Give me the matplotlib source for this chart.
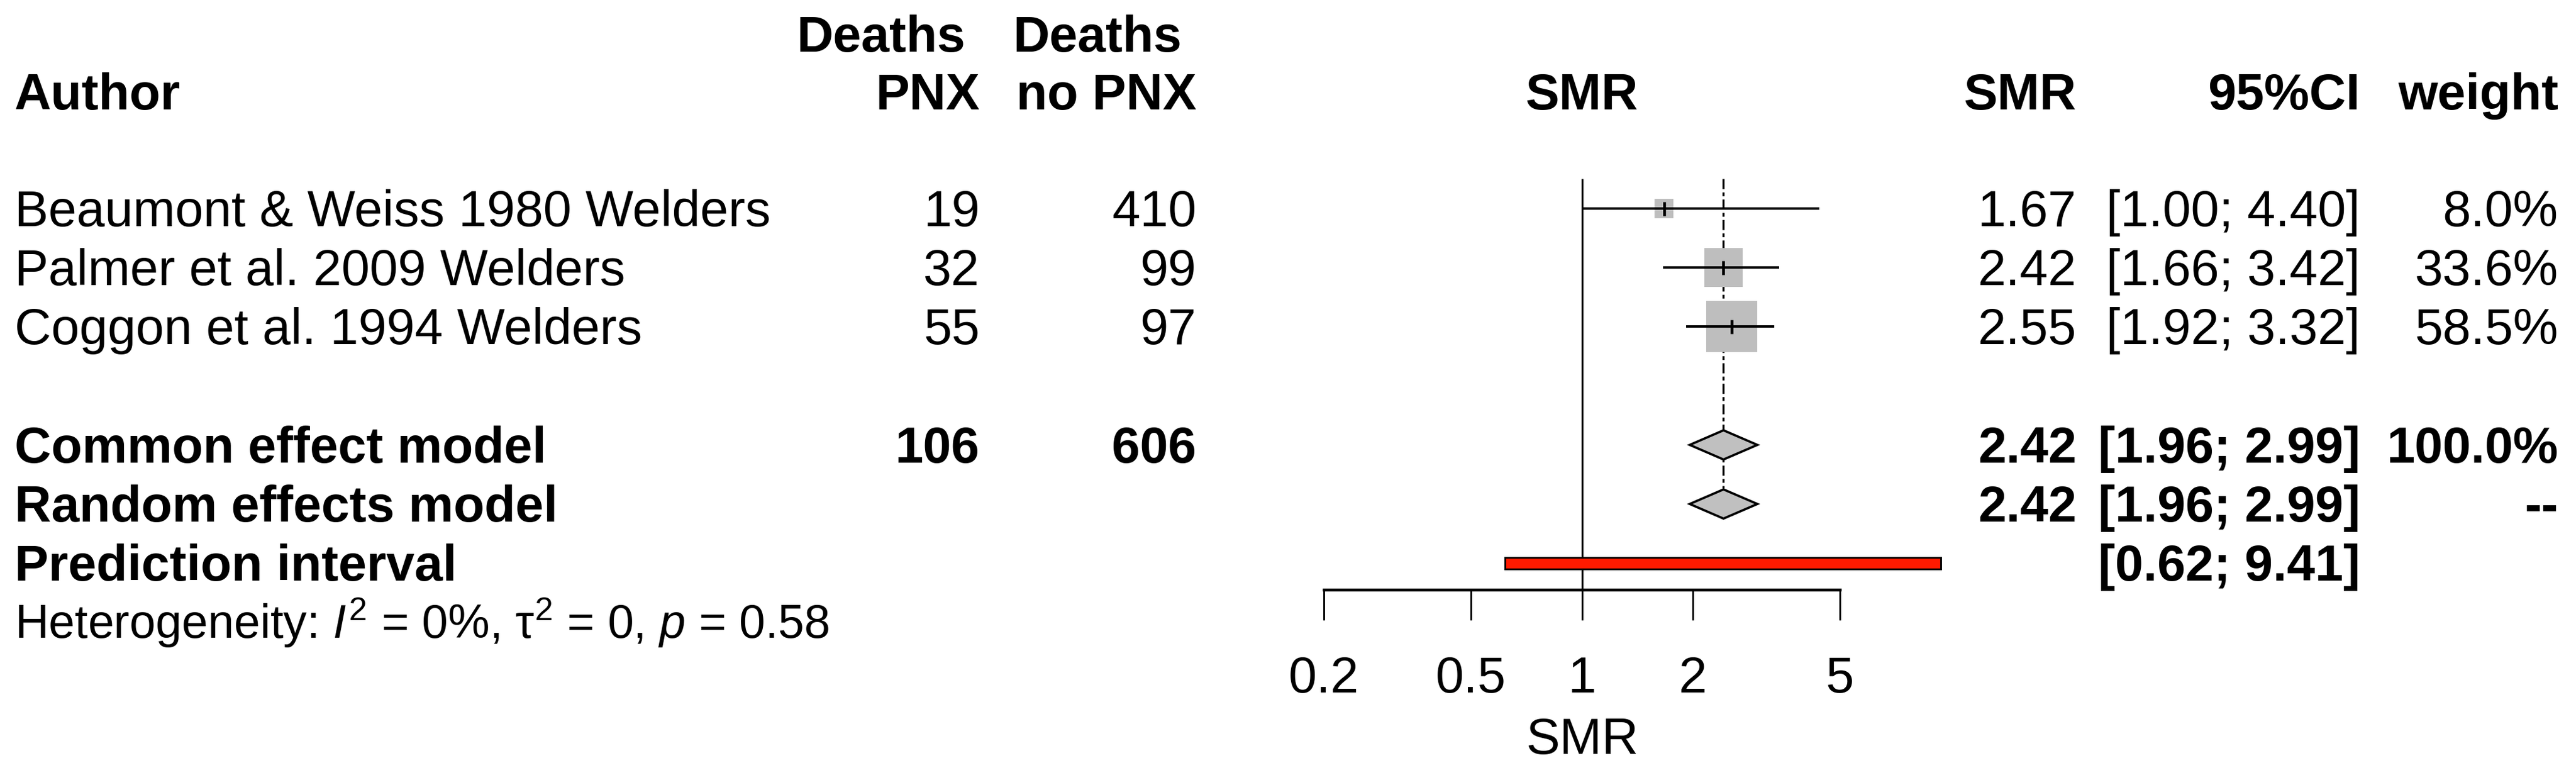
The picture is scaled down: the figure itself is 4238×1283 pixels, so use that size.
import numpy as np
import matplotlib
matplotlib.use("Agg")
import matplotlib.pyplot as plt
from matplotlib.patches import Polygon, Rectangle
from matplotlib.ticker import NullLocator

plt.rcParams['font.family'] = ['Liberation Sans', 'DejaVu Sans']
plt.rcParams['mathtext.fontset'] = 'custom'
plt.rcParams['mathtext.rm'] = 'Liberation Sans'
plt.rcParams['mathtext.it'] = 'Liberation Sans:italic'
plt.rcParams['mathtext.bf'] = 'Liberation Sans:bold'

# data
authors = ['Beaumont & Weiss 1980 Welders',
           'Palmer et al. 2009 Welders',
           'Coggon et al. 1994 Welders']
deaths_pnx = [19, 32, 55]
deaths_no_pnx = [410, 99, 97]
smr = [1.67, 2.42, 2.55]
ci_lower = [1.00, 1.66, 1.92]
ci_upper = [4.40, 3.42, 3.32]
weights = [8.0, 33.6, 58.5]

total_pnx = 106
total_no_pnx = 606
total_weight = 100.0
common = [2.42, 1.96, 2.99]      # estimate, lower, upper
random_eff = [2.42, 1.96, 2.99]
pred_int = [0.62, 9.41]
x_ticks = [0.2, 0.5, 1, 2, 5]
het_label = r"Heterogeneity: $I^2$ = 0%, $\mathrm{\tau}^2$ = 0, $p$ = 0.58"

# layout (pixels)
W, H, DPI = 4238, 1283, 300
px_one, px_decade = 2602.5, 607.0
row0, step = 343.0, 97.2
fs, fs_het = 20, 18.5
col_left = 24
col_pnx, col_nopnx = 1612, 1968
col_smr, col_ci, col_w = 3416, 3883, 4209
axis_y = 970

fig = plt.figure(figsize=(W / DPI, H / DPI), dpi=DPI)

ax = fig.add_axes([0, 0, 1, 1])
ax.patch.set_alpha(0)
ax.set_xscale('log')
ax.set_xlim(10 ** (-px_one / px_decade), 10 ** ((W - px_one) / px_decade))
ax.set_ylim(H, 0)

tx = fig.add_axes([0, 0, 1, 1], zorder=3)
tx.patch.set_alpha(0)
tx.set_xlim(0, W)
tx.set_ylim(H, 0)
tx.axis('off')

def row(i):
    return row0 + i * step

study_y = [row(i) for i in range(len(authors))]
common_y, random_y, pred_y, het_y = row(4), row(5), row(6), row(7)
base = 29  # baseline below row centre

# reference line and common effect line
ax.vlines(1, 294, axis_y, color='black', lw=0.75, zorder=1)
ax.plot([common[0], common[0]], [294, random_y - 26], color='black', lw=0.8,
        dashes=(5.0, 1.6, 1.9, 1.6), zorder=1)

# studies
side_px = 84 * np.sqrt(np.array(weights) / max(weights))
ax.scatter(smr, study_y, marker='s', s=(side_px * 72 / DPI) ** 2,
           color='#BEBEBE', linewidths=0, zorder=2)
ax.hlines(study_y, ci_lower, ci_upper, color='black', lw=0.95, zorder=3)
ax.vlines(smr, np.array(study_y) - 11.5, np.array(study_y) + 11.5,
          color='black', lw=1.1, zorder=3)

# summary diamonds
for est, lo, hi, y in [(common[0], common[1], common[2], common_y),
                       (random_eff[0], random_eff[1], random_eff[2], random_y)]:
    ax.add_patch(Polygon([(lo, y), (est, y - 24), (hi, y), (est, y + 24)],
                         closed=True, facecolor='#C0C0C0', edgecolor='black',
                         lw=0.9, zorder=3))

# prediction interval
ax.add_patch(Rectangle((pred_int[0], pred_y - 9.5), pred_int[1] - pred_int[0], 19,
                       facecolor='#FF1A00', edgecolor='black', lw=0.7, zorder=3))

# x axis
for s in ['top', 'left', 'right']:
    ax.spines[s].set_visible(False)
ax.spines['bottom'].set_position(('data', axis_y))
ax.spines['bottom'].set_bounds(x_ticks[0], x_ticks[-1])
ax.spines['bottom'].set_linewidth(1.1)
ax.set_xticks(x_ticks)
ax.set_xticklabels([f"{t:g}" for t in x_ticks])
ax.xaxis.set_minor_locator(NullLocator())
ax.set_yticks([])
ax.tick_params(axis='x', direction='out', length=12, width=0.7, pad=14,
               labelsize=fs)
ax.text(1, 1240, 'SMR', ha='center', va='baseline', fontsize=fs)

# header
hb1, hb2 = 85, 180
hdr = dict(va='baseline', fontsize=fs, weight='bold')
tx.text(col_left, hb2, 'Author', ha='left', **hdr)
tx.text(col_pnx - 24, hb1, 'Deaths', ha='right', **hdr)
tx.text(col_pnx, hb2, 'PNX', ha='right', **hdr)
tx.text(col_nopnx - 24, hb1, 'Deaths', ha='right', **hdr)
tx.text(col_nopnx, hb2, 'no PNX', ha='right', **hdr)
ax.text(1, hb2, 'SMR', ha='center', **hdr)
tx.text(col_smr, hb2, 'SMR', ha='right', **hdr)
tx.text(col_ci, hb2, '95%CI', ha='right', **hdr)
tx.text(col_w, hb2, 'weight', ha='right', **hdr)

# study rows
for i, y in enumerate(study_y):
    yb = y + base
    tx.text(col_left, yb, authors[i], ha='left', va='baseline', fontsize=fs)
    tx.text(col_pnx, yb, str(deaths_pnx[i]), ha='right', va='baseline', fontsize=fs)
    tx.text(col_nopnx, yb, str(deaths_no_pnx[i]), ha='right', va='baseline', fontsize=fs)
    tx.text(col_smr, yb, f"{smr[i]:.2f}", ha='right', va='baseline', fontsize=fs)
    tx.text(col_ci, yb, f"[{ci_lower[i]:.2f}; {ci_upper[i]:.2f}]", ha='right',
            va='baseline', fontsize=fs)
    tx.text(col_w, yb, f"{weights[i]:.1f}%", ha='right', va='baseline', fontsize=fs)

# summary rows
bold = dict(va='baseline', fontsize=fs, weight='bold')
yb = common_y + base
tx.text(col_left, yb, 'Common effect model', ha='left', **bold)
tx.text(col_pnx, yb, str(total_pnx), ha='right', **bold)
tx.text(col_nopnx, yb, str(total_no_pnx), ha='right', **bold)
tx.text(col_smr, yb, f"{common[0]:.2f}", ha='right', **bold)
tx.text(col_ci, yb, f"[{common[1]:.2f}; {common[2]:.2f}]", ha='right', **bold)
tx.text(col_w, yb, f"{total_weight:.1f}%", ha='right', **bold)

yb = random_y + base
tx.text(col_left, yb, 'Random effects model', ha='left', **bold)
tx.text(col_smr, yb, f"{random_eff[0]:.2f}", ha='right', **bold)
tx.text(col_ci, yb, f"[{random_eff[1]:.2f}; {random_eff[2]:.2f}]", ha='right', **bold)
tx.text(col_w, yb, '--', ha='right', **bold)

yb = pred_y + base
tx.text(col_left, yb, 'Prediction interval', ha='left', **bold)
tx.text(col_ci, yb, f"[{pred_int[0]:.2f}; {pred_int[1]:.2f}]", ha='right', **bold)

tx.text(col_left, het_y + 27, het_label, ha='left', va='baseline', fontsize=fs_het)

fig.savefig('out.png', dpi=DPI)
